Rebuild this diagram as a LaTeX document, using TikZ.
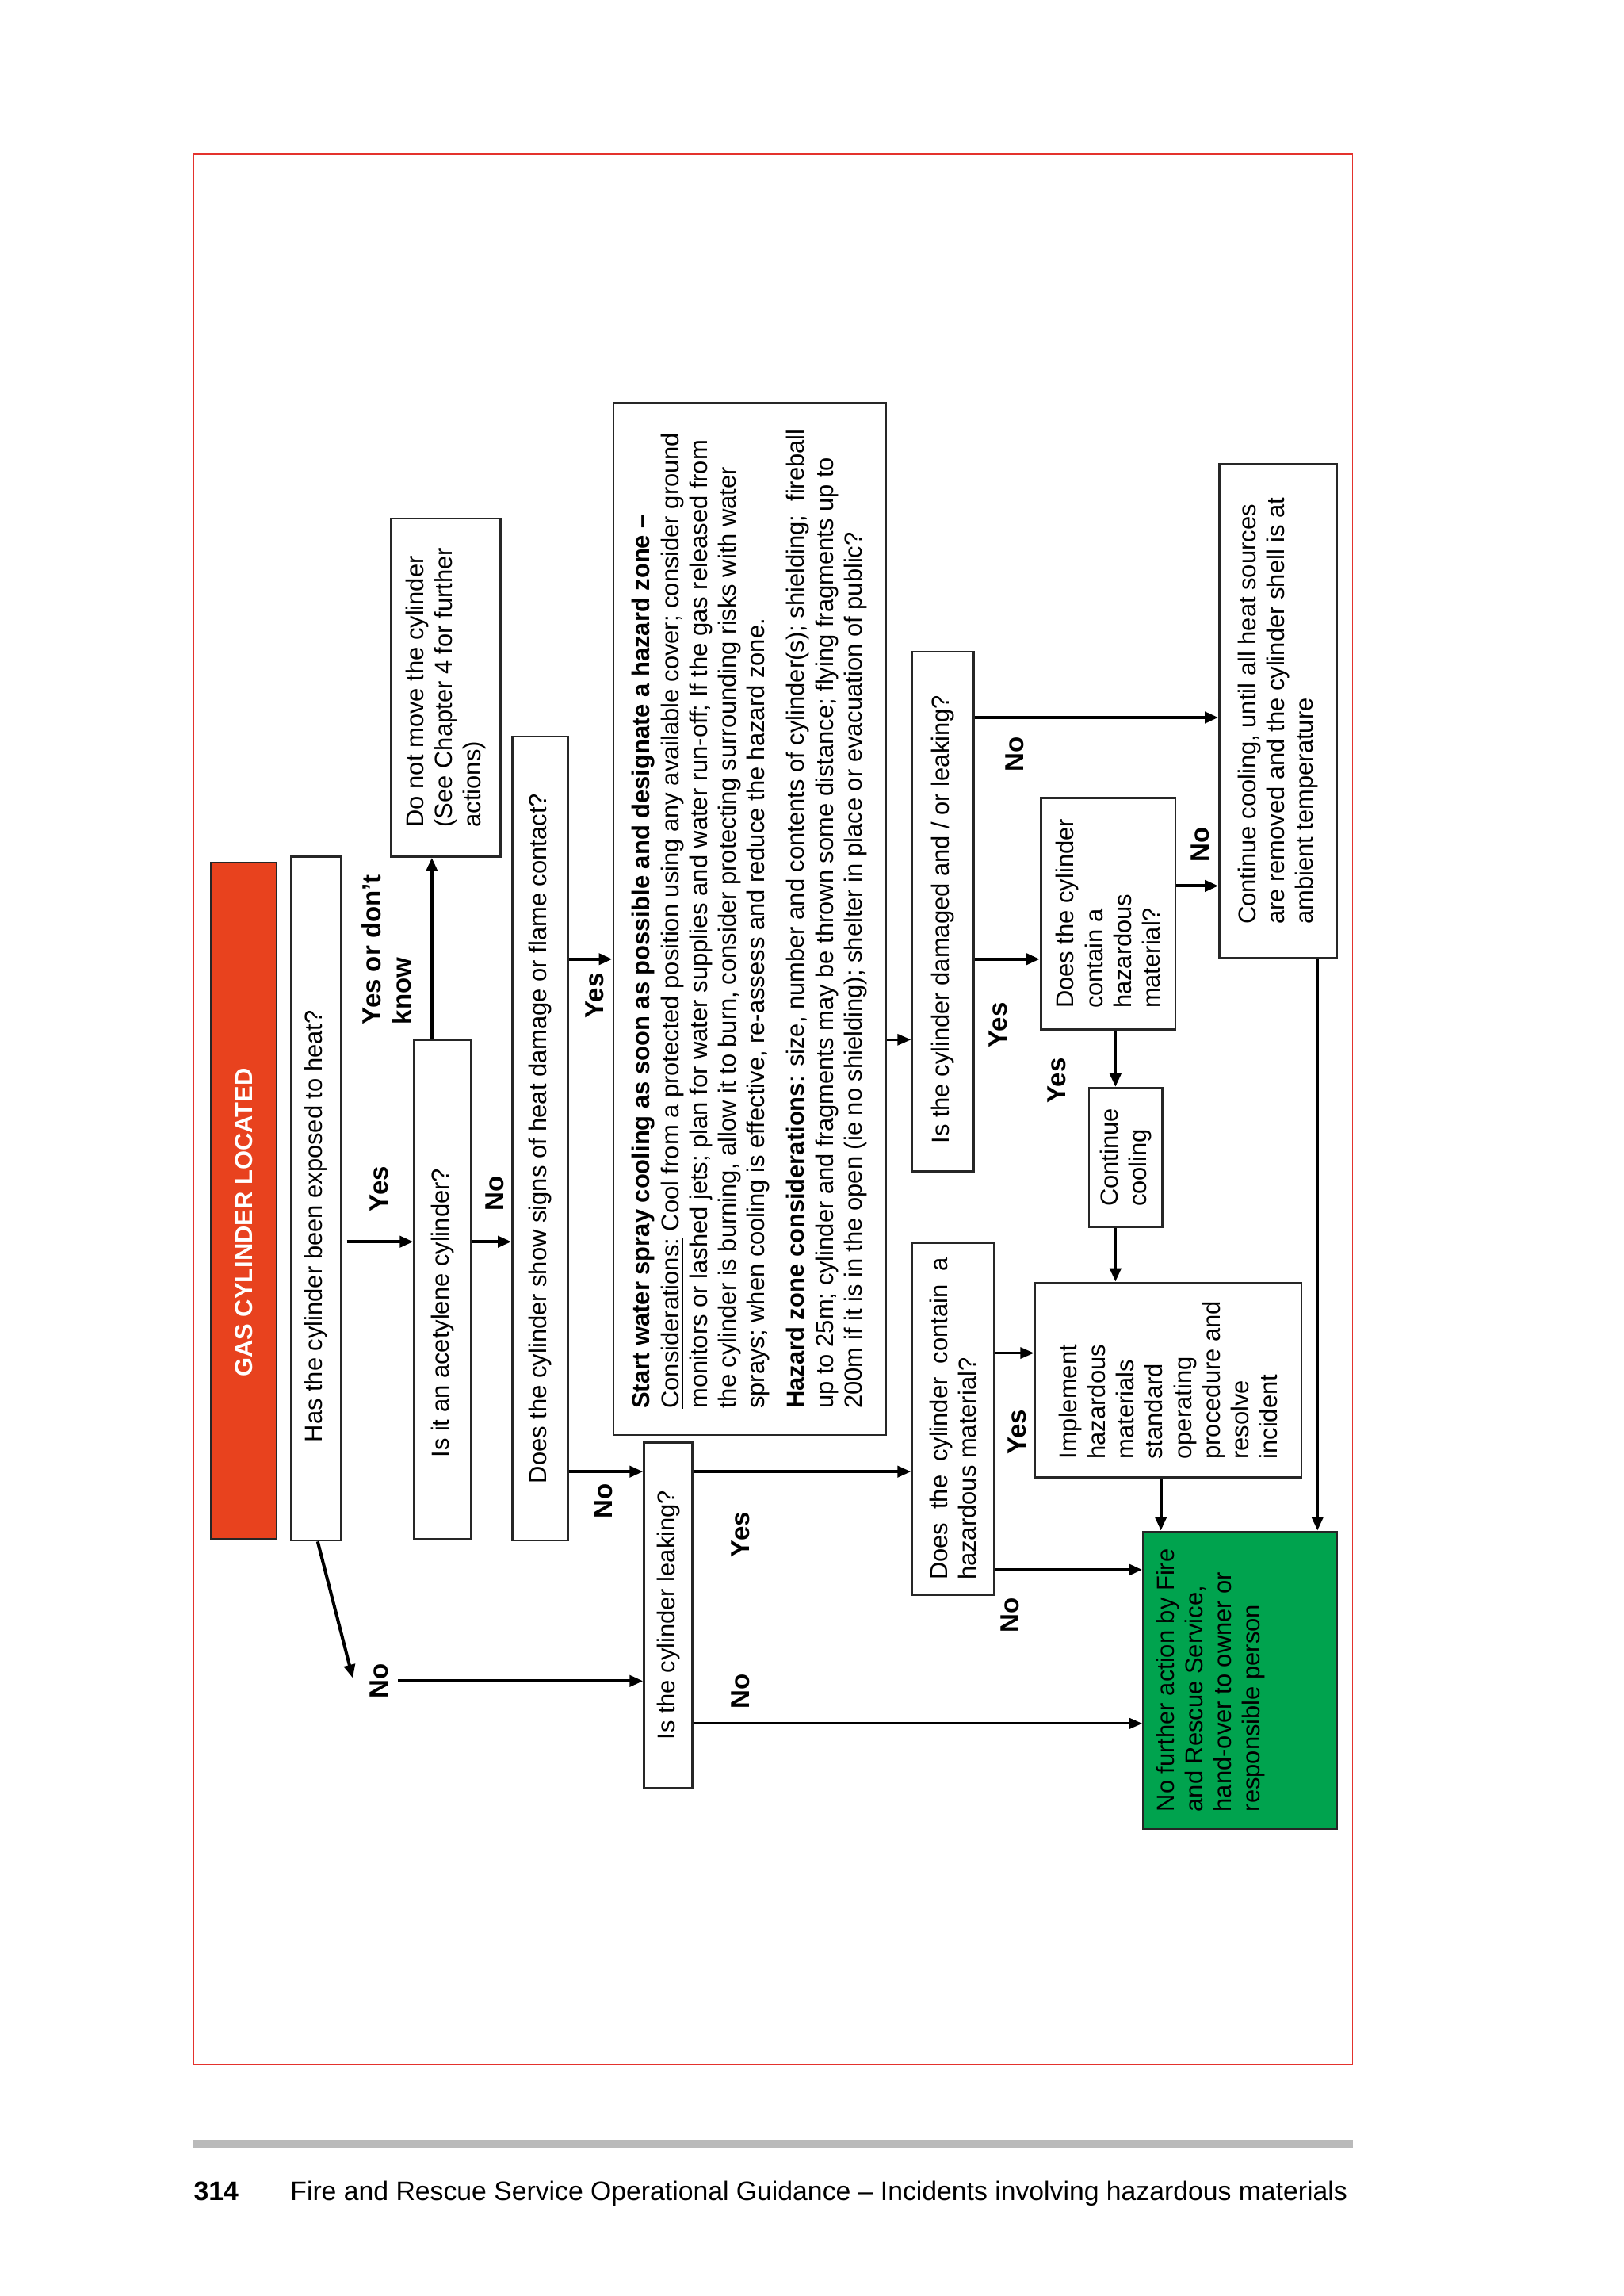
\documentclass[tikz,border=0pt]{standalone}
\usepackage{fontspec}
\setmainfont{Liberation Sans}
\usetikzlibrary{arrows.meta}

\definecolor{gasred}{RGB}{232,66,30}
\definecolor{safegreen}{RGB}{0,163,78}
\definecolor{framered}{RGB}{228,50,45}
\def\pxl{0.18467mm}

\tikzset{
  box/.style={draw=black!85, line width=0.75pt, rotate=90, inner sep=0pt,
    align=left, font=\fontsize{8.8}{10.3}\selectfont},
  arr/.style={line width=1.15pt, -{Triangle[length=1.7mm,width=1.4mm]}},
  thinarr/.style={arr, line width=0.85pt},
  lbl/.style={rotate=90, inner sep=0pt, font=\bfseries\fontsize{9.4}{10.8}\selectfont},
}

\begin{document}
\begin{tikzpicture}[x=\pxl, y=-\pxl]
  \useasboundingbox (0,0) rectangle (1109,1568);
  \fill[white] (0,0) rectangle (1109,1568);
  \draw[framered, line width=0.5pt] (132,105) rectangle (924,1410);

  % boxes, text reads bottom to top
  \node[box, minimum width=462*\pxl, minimum height=45*\pxl, fill=gasred, text=white,
    font=\bfseries\fontsize{8.8}{10.3}\selectfont]
    (start) at (166.5,820) {GAS CYLINDER LOCATED\hspace*{5.5mm}};
  \node[box, minimum width=467*\pxl, minimum height=34*\pxl] (heat) at (216,818.5)
    {Has the cylinder been exposed to heat?\hspace*{7mm}};
  \node[box, minimum width=341*\pxl, minimum height=39*\pxl] (acet) at (302.5,880.5)
    {Is it an acetylene cylinder?\hspace*{6mm}};
  \node[box, minimum width=231*\pxl, minimum height=75*\pxl] (donot) at (304.5,469.5)
    {Do not move the cylinder\\(See Chapter 4 for further\\actions)};
  \node[box, minimum width=549*\pxl, minimum height=38*\pxl] (dmg) at (369,777.5)
    {Does the cylinder show signs of heat damage or flame contact?};
  \node[box, minimum width=705*\pxl, minimum height=186*\pxl] (spray) at (512,627.5)
    {\textbf{Start water spray cooling as soon as possible and designate a hazard zone --}\\
     \underline{Considerations:} Cool from a protected position using any available cover; consider ground\\
     monitors or lashed jets; plan for water supplies and water run-off; If the gas released from\\
     the cylinder is burning, allow it to burn, consider protecting surrounding risks with water\\
     sprays; when cooling is effective, re-assess and reduce the hazard zone.\\[4pt]
     \textbf{Hazard zone considerations}: size, number and contents of cylinder(s); shielding;\ \ fireball\\
     up to 25m; cylinder and fragments may be thrown some distance; flying fragments up to\\
     200m if it is in the open (ie no shielding); shelter in place or evacuation of public?};
  \node[box, minimum width=236*\pxl, minimum height=33*\pxl] (leak) at (456.5,1103)
    {Is the cylinder leaking?};
  \node[box, minimum width=355*\pxl, minimum height=42*\pxl] (dmgleak) at (644,622.5)
    {Is the cylinder damaged and / or leaking?\hspace*{2mm}};
  \node[box, minimum width=240*\pxl, minimum height=56*\pxl, align=justify, text width=220*\pxl]
    (haz1) at (651,969) {Does the cylinder contain a\linebreak hazardous material?};
  \node[box, minimum width=158*\pxl, minimum height=92*\pxl] (haz2) at (757,624)
    {Does the cylinder\\contain a\\hazardous\\material?};
  \node[box, minimum width=95*\pxl, minimum height=50*\pxl] (cont1) at (769,790.5)
    {Continue\\cooling};
  \node[box, minimum width=133*\pxl, minimum height=182*\pxl] (impl) at (798,942.5)
    {Implement\\hazardous\\materials\\standard\\operating\\procedure and\\resolve\\incident};
  \node[box, minimum width=203*\pxl, minimum height=132*\pxl, fill=safegreen] (green)
    at (847,1147.5) {};
  \node[box, draw=none] (greentext) at (827,1147.5)
    {No further action by Fire\\and Rescue Service,\\hand-over to owner or\\responsible person};
  \node[box, minimum width=337*\pxl, minimum height=80*\pxl] (cont2) at (873,485.5)
    {Continue cooling, until all heat sources\\are removed and the cylinder shell is at\\ambient temperature};

  % connectors
  \draw[arr, shorten <=0.6mm] (heat.south |- 0,848) -- (acet.north |- 0,848);
  \draw[arr] (acet.south |- 0,848) -- (dmg.north |- 0,848);
  \draw[arr] (acet.east -| 295,0) -- (donot.west -| 295,0);
  \coordinate (noend) at (241,1146);
  \coordinate (nostart) at (272,1148);
  \draw[arr] (heat.west -| 217,0) -- (noend);
  \draw[arr] (nostart) -- (leak.north |- nostart);
  \draw[arr] (dmg.south |- 0,655) -- (spray.north |- 0,655);
  \draw[arr] (dmg.south |- 0,1005) -- (leak.north |- 0,1005);
  \draw[thinarr] (spray.south |- 0,710) -- (dmgleak.north |- 0,710);
  \draw[arr] (leak.south |- 0,1005) -- (haz1.north |- 0,1005);
  \draw[thinarr] (leak.south |- 0,1177) -- (green.north |- 0,1177);
  \draw[arr] (dmgleak.south |- 0,655) -- (haz2.north |- 0,655);
  \draw[arr] (dmgleak.south |- 0,490) -- (cont2.north |- 0,490);
  \draw[arr] (haz2.south |- 0,605) -- (cont2.north |- 0,605);
  \draw[arr] (haz2.west -| 762,0) -- (cont1.east -| 762,0);
  \draw[arr] (cont1.west -| 762,0) -- (impl.east -| 762,0);
  \draw[thinarr] (haz1.south |- 0,924) -- (impl.north |- 0,924);
  \draw[arr] (haz1.south |- 0,1072) -- (green.north |- 0,1072);
  \draw[arr] (impl.west -| 793,0) -- (green.east -| 793,0);
  \draw[arr] (cont2.west -| 900,0) -- (green.east -| 900,0);

  % answers
  \node[lbl] (yesA) at (259,812) {Yes};
  \node[lbl] (noB) at (338,815) {No};
  \node[lbl, align=left, anchor=north west] (yesdk) at (247,700) {Yes or don’t\\know};
  \node[lbl] (noC) at (259,1148) {No};
  \node[lbl] (yesD) at (406,680) {Yes};
  \node[lbl] (noE) at (412,1025) {No};
  \node[lbl] (yesF) at (506,1048) {Yes};
  \node[lbl] (noG) at (506,1155) {No};
  \node[lbl] (yesH) at (682,700) {Yes};
  \node[lbl] (noI) at (693,515) {No};
  \node[lbl] (noJ) at (820,577) {No};
  \node[lbl] (yesK) at (722,738) {Yes};
  \node[lbl] (yesL) at (695,978) {Yes};
  \node[lbl] (noM) at (690,1103) {No};

  % page footer
  \fill[black!27] (132,1461.5) rectangle (924,1467);
  \node[anchor=base west, inner sep=0pt, font=\bfseries\fontsize{9.6}{11}\selectfont] (pgnum)
    at (132,1503) {314};
  \node[anchor=base west, inner sep=0pt, font=\fontsize{9.6}{11}\selectfont] (title)
    at (198,1503)
    {Fire and Rescue Service Operational Guidance -- Incidents involving hazardous materials};
\end{tikzpicture}
\end{document}
